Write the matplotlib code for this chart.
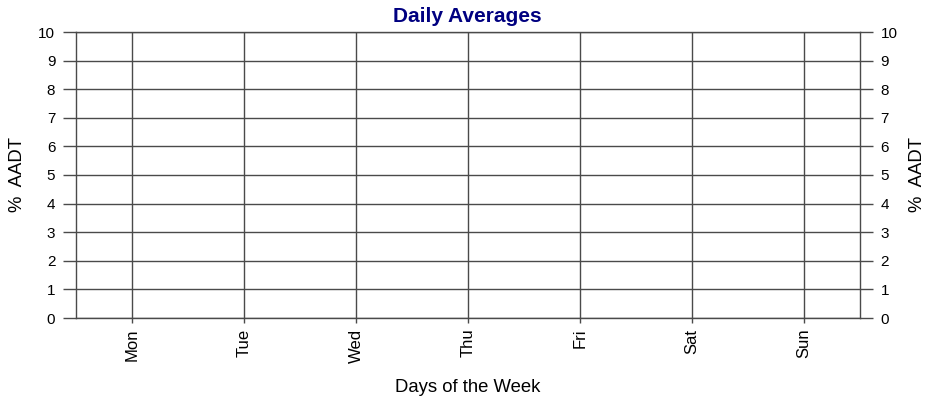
import matplotlib.pyplot as plt

# -- Data --
days = ["Mon", "Tue", "Wed", "Thu", "Fri", "Sat", "Sun"]
y_ticks = [0, 1, 2, 3, 4, 5, 6, 7, 8, 9, 10]

plt.rcParams['font.family'] = ['Liberation Sans', 'DejaVu Sans']
line_col = '#4a4a4a'

# -- Plotting --
fig = plt.figure(figsize=(9.27, 4.01), dpi=100)
ax = fig.add_axes([76 / 927, 83 / 401, 784 / 927, 286 / 401])

x = list(range(len(days)))
ax.set_xlim(-0.5, len(days) - 0.5)
ax.set_ylim(0, 10)
ax.set_xticks(x)
ax.set_xticklabels(days, rotation=90, fontsize=12)
ax.set_yticks(y_ticks)
ax.set_yticklabels([str(v) for v in y_ticks], fontsize=11)

ax.grid(True, color=line_col, linewidth=1)
for s in ax.spines.values():
    s.set_color(line_col)
    s.set_linewidth(1)

ax.tick_params(axis='y', length=9.4, width=1, color=line_col, pad=5.5)
ax.tick_params(axis='x', length=3.6, width=1, color=line_col, pad=4)

ax2 = ax.twinx()
ax2.set_ylim(0, 10)
ax2.set_yticks(y_ticks)
ax2.set_yticklabels([str(v) for v in y_ticks], fontsize=11)
ax2.tick_params(axis='y', length=9.4, width=1, color=line_col, pad=5.5)
for s in ax2.spines.values():
    s.set_visible(False)

fig.text(467 / 927, 1 - 17 / 401, "Daily Averages", fontsize=15, fontweight='bold',
         color='#000080', ha='center', va='center')
fig.text(468 / 927, 1 - 387 / 401, "Days of the Week", fontsize=13.3, ha='center', va='center')
fig.text(17 / 927, 1 - 175 / 401, "%  AADT", fontsize=13.3, rotation=90, ha='center', va='center')
fig.text(918 / 927, 1 - 175 / 401, "%  AADT", fontsize=13.3, rotation=90, ha='center', va='center')

fig.savefig("out.png", dpi=100)
